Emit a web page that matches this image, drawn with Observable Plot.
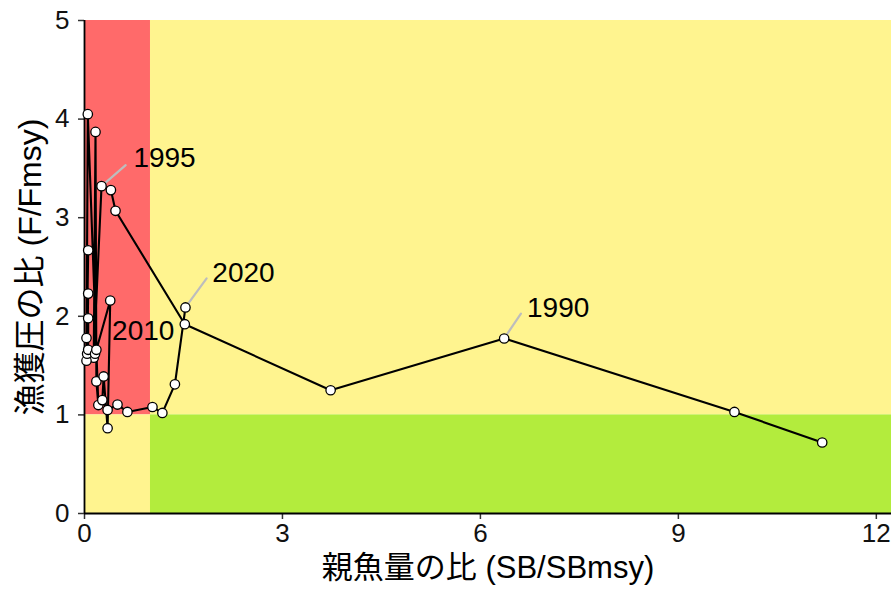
<!DOCTYPE html>
<html>
<head>
<meta charset="utf-8">
<script src="https://cdn.jsdelivr.net/npm/d3@7"></script>
<script src="https://cdn.jsdelivr.net/npm/@observablehq/plot@0.6"></script>
<style>
  html, body { margin: 0; padding: 0; background: #fff; }
  #chart svg { display: block; }
</style>
</head>
<body>
<div id="chart"></div>
<script>
// ---- data ----
const years = [1988,1989,1990,1991,1992,1993,1994,1995,1996,1997,1998,1999,2000,2001,2002,2003,2004,2005,2006,2007,2008,2009,2010,2011,2012,2013,2014,2015,2016,2017,2018,2019,2020];
const sbRatio = [11.18,9.85,6.36,3.73,1.52,0.47,0.40,0.258,0.14,0.167,0.18,0.21,0.05,0.03,0.056,0.03,0.056,0.04,0.056,0.056,0.16,0.18,0.39,0.35,0.29,0.27,0.35,0.50,0.65,1.03,1.18,1.37,1.53];
const fRatio  = [0.72,1.03,1.775,1.25,1.92,3.07,3.28,3.32,1.58,3.87,1.34,1.10,4.05,1.55,2.67,1.78,2.23,1.62,1.98,1.66,1.62,1.66,2.16,0.865,1.39,1.15,1.05,1.105,1.03,1.08,1.02,1.31,2.09];
const labelYears = [1990, 1995, 2010, 2020];

// Kobe zones (reference points at SB/SBmsy = 1 and F/Fmsy = 1)
const zoneNames = ["overfished_overfishing", "overfished_ok", "ok_overfishing", "ok_ok"];
const zoneX1 = [0, 0, 1, 1];
const zoneX2 = [1, 1, 12.23, 12.23];
const zoneY1 = [1, 0, 1, 0];
const zoneY2 = [5, 1, 5, 1];
const zoneColors = ["#FF6A6A", "#FFF48F", "#FFF48F", "#B3EC3D"];

const xTicks = [0, 3, 6, 9, 12];
const yTicks = [0, 1, 2, 3, 4, 5];

// ---- styles (pixel offsets for labels) ----
const labelStyle = {
  1990: {dx: 54, dy: -30, seg: 30, rot: 34},
  1995: {dx: 63, dy: -28, seg: 32, rot: 49},
  2010: {dx: 33, dy: 31, seg: 0, rot: 0},
  2020: {dx: 58, dy: -34, seg: 36, rot: 36}
};

const series = years.map((y, i) => ({year: y, sb: sbRatio[i], f: fRatio[i]}));
const zones = zoneNames.map((n, i) => ({name: n, x1: zoneX1[i], x2: zoneX2[i], y1: zoneY1[i], y2: zoneY2[i], color: zoneColors[i]}));

const font = "'Liberation Sans', Arial, 'Noto Sans CJK JP', sans-serif";

const labelMarks = [];
for (const yr of labelYears) {
  const d = series.filter(s => s.year === yr);
  const st = labelStyle[yr];
  if (st.seg > 0) {
    labelMarks.push(Plot.vector(d, {
      x: "sb", y: "f", length: st.seg, rotate: st.rot, anchor: "start",
      shape: {draw(ctx, l) { ctx.moveTo(0, 0); ctx.lineTo(0, -l); }},
      stroke: "#BDBDBD", strokeWidth: 2.2
    }));
  }
  labelMarks.push(Plot.text(d, {
    x: "sb", y: "f", text: s => String(s.year), dx: st.dx, dy: st.dy,
    fontSize: 28, fill: "#000", textAnchor: "middle", fontFamily: font
  }));
}

const chart = Plot.plot({
  width: 891,
  height: 599,
  marginLeft: 84,
  marginTop: 20,
  marginBottom: 86,
  marginRight: 0,
  style: {fontFamily: font, fontSize: "25px", background: "#fff", overflow: "visible"},
  x: {domain: [0, 12.23], ticks: xTicks, label: null},
  y: {domain: [0, 5], ticks: yTicks, label: null},
  marks: [
    Plot.rect(zones, {x1: "x1", x2: "x2", y1: "y1", y2: "y2", fill: d => d.color}),
    Plot.axisX({ticks: xTicks, tickFormat: d3.format("d"), tickSize: 6, tickPadding: 4, fontSize: 26, stroke: "#333", strokeWidth: 1.5, fill: "#111", label: null}),
    Plot.axisY({ticks: yTicks, tickFormat: d3.format("d"), tickSize: 6, tickPadding: 9, fontSize: 26, stroke: "#333", strokeWidth: 1.5, fill: "#111", label: null}),
    Plot.ruleX([0], {stroke: "#000", strokeWidth: 1.8}),
    Plot.ruleY([0], {stroke: "#000", strokeWidth: 1.8}),
    Plot.line(series, {x: "sb", y: "f", stroke: "#000", strokeWidth: 2.1}),
    ...labelMarks,
    Plot.dot(series, {x: "sb", y: "f", r: 4.7, fill: "#fff", stroke: "#000", strokeWidth: 1.3}),
    Plot.text(["親魚量の比 (SB/SBmsy)"], {frameAnchor: "bottom", dy: 64, text: d => d, fontSize: 31, fill: "#000", fontFamily: font, textAnchor: "middle"}),
    Plot.text(["漁獲圧の比 (F/Fmsy)"], {frameAnchor: "left", dx: -54, rotate: -90, text: d => d, fontSize: 32, fill: "#000", fontFamily: font, textAnchor: "middle"})
  ]
});
document.getElementById("chart").appendChild(chart);
</script>
</body>
</html>
